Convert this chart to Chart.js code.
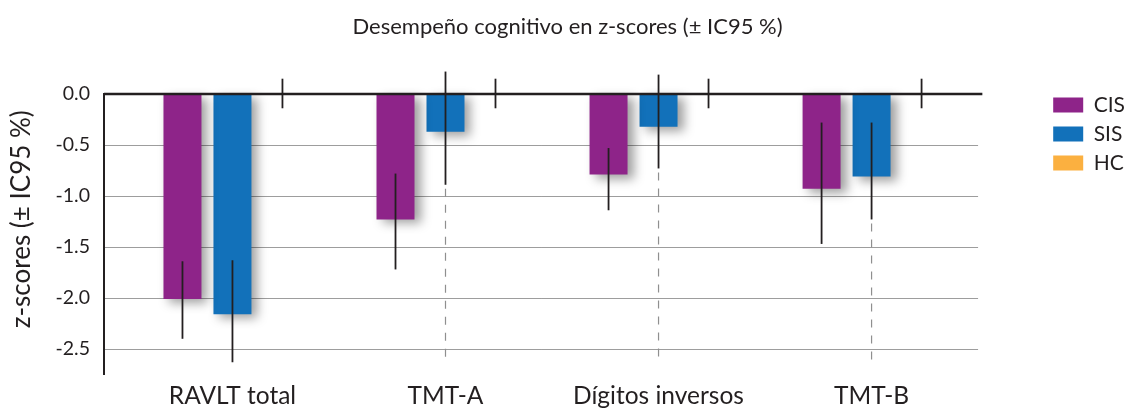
<!DOCTYPE html>
<html>
<head>
<meta charset="utf-8">
<script src="https://cdn.jsdelivr.net/npm/chart.js@4.4.0/dist/chart.umd.min.js"></script>
<style>
  html, body { margin: 0; padding: 0; background: #fff; }
  #wrap { width: 1137px; height: 408px; }
</style>
</head>
<body>
<div id="wrap"><canvas id="chart"></canvas></div>
<script>
// categories and values
const categories = ['RAVLT total', 'TMT-A', 'Dígitos inversos', 'TMT-B'];
const seriesNames = ['CIS', 'SIS', 'HC'];

const cisMean = [-2.01, -1.23, -0.79, -0.93];
const cisLow  = [-2.40, -1.72, -1.14, -1.47];
const cisHigh = [-1.64, -0.78, -0.53, -0.28];

const sisMean = [-2.16, -0.37, -0.32, -0.81];
const sisLow  = [-2.63, -0.89, -0.73, -1.23];
const sisHigh = [-1.63, 0.22, 0.19, -0.28];

const hcMean = [0, 0, 0, 0];
const hcLow  = [-0.14, -0.14, -0.14, -0.14];
const hcHigh = [0.15, 0.15, 0.15, 0.15];

// grey dashed continuation below some SIS error bars
const sisDashEnd = [null, -2.62, -2.62, -2.62];

const yTicks = [0, -0.5, -1, -1.5, -2, -2.5];

const FONT = 'Lato';
const TEXT = '#231f20';
const COLORS = ['#8e2489', '#1271ba', '#fbb040'];
const GRID_END = 3.5; // x value where grid lines stop

const toPoints = arr => arr.map((v, i) => ({ x: i, y: v }));

const errorBars = [
  { low: cisLow, high: cisHigh },
  { low: sisLow, high: sisHigh },
  { low: hcLow, high: hcHigh }
];

const decorPlugin = {
  id: 'decor',
  beforeDatasetsDraw(chart) {
    const { ctx, chartArea, scales } = chart;
    const xEnd = scales.x.getPixelForValue(GRID_END);
    ctx.save();
    ctx.strokeStyle = '#9d9d9d';
    ctx.lineWidth = 1;
    yTicks.forEach(v => {
      if (v === 0) return;
      const y = Math.round(scales.y.getPixelForValue(v)) + 0.5;
      ctx.beginPath();
      ctx.moveTo(chartArea.left, y);
      ctx.lineTo(xEnd, y);
      ctx.stroke();
    });
    ctx.restore();
  },
  beforeDatasetDraw(chart) {
    const ctx = chart.ctx;
    ctx.save();
    ctx.shadowColor = 'rgba(0,0,0,0.38)';
    ctx.shadowBlur = 10;
    ctx.shadowOffsetX = 6;
    ctx.shadowOffsetY = 4;
  },
  afterDatasetDraw(chart) {
    chart.ctx.restore();
  },
  afterDatasetsDraw(chart) {
    const { ctx, chartArea, scales } = chart;
    const x = scales.x, y = scales.y;
    const y0 = y.getPixelForValue(0);
    ctx.save();

    // dashed grey continuations
    ctx.strokeStyle = '#8f8f8f';
    ctx.lineWidth = 1.2;
    ctx.setLineDash([8, 8]);
    const sisMeta = chart.getDatasetMeta(1);
    sisDashEnd.forEach((end, i) => {
      if (end === null) return;
      const px = sisMeta.data[i].x;
      ctx.beginPath();
      ctx.moveTo(px, y.getPixelForValue(sisLow[i]) + 4);
      ctx.lineTo(px, y.getPixelForValue(end));
      ctx.stroke();
    });
    ctx.setLineDash([]);

    // axes
    ctx.strokeStyle = '#231f20';
    ctx.lineWidth = 2.5;
    ctx.beginPath();
    ctx.moveTo(chartArea.left, y0);
    ctx.lineTo(x.getPixelForValue(GRID_END + 0.02), y0);
    ctx.stroke();
    ctx.lineWidth = 2;
    ctx.beginPath();
    ctx.moveTo(chartArea.left, y0 - 1);
    ctx.lineTo(chartArea.left, chartArea.bottom);
    ctx.stroke();

    // error bars
    ctx.lineWidth = 1.8;
    errorBars.forEach((eb, di) => {
      const meta = chart.getDatasetMeta(di);
      meta.data.forEach((bar, i) => {
        ctx.beginPath();
        ctx.moveTo(bar.x, y.getPixelForValue(eb.high[i]));
        ctx.lineTo(bar.x, y.getPixelForValue(eb.low[i]));
        ctx.stroke();
      });
    });
    ctx.restore();
  }
};

const ctx = document.getElementById('chart').getContext('2d');
new Chart(ctx, {
  type: 'bar',
  data: {
    datasets: [
      { label: seriesNames[0], data: toPoints(cisMean), backgroundColor: COLORS[0] },
      { label: seriesNames[1], data: toPoints(sisMean), backgroundColor: COLORS[1] },
      { label: seriesNames[2], data: toPoints(hcMean), backgroundColor: COLORS[2] }
    ]
  },
  options: {
    responsive: true,
    maintainAspectRatio: false,
    animation: false,
    categoryPercentage: 0.704,
    barPercentage: 0.76,
    borderWidth: 0,
    layout: { padding: { left: 0, right: 2, top: 0, bottom: 0 } },
    scales: {
      x: {
        type: 'linear',
        offset: false,
        min: -0.603,
        max: 3.815,
        grid: { display: false },
        border: { display: false },
        afterBuildTicks: scale => { scale.ticks = categories.map((c, i) => ({ value: i })); },
        afterFit: scale => { scale.height = 33; },
        ticks: {
          color: TEXT,
          font: { family: FONT, size: 24.5 },
          padding: -2,
          maxRotation: 0,
          callback: v => categories[v]
        }
      },
      y: {
        min: -2.755,
        max: 0.30,
        grid: { display: false },
        border: { display: false },
        afterBuildTicks: scale => { scale.ticks = yTicks.map(v => ({ value: v })); },
        afterFit: scale => { scale.width = 104; },
        ticks: {
          color: TEXT,
          font: { family: FONT, size: 19.5 },
          padding: 6,
          callback: v => v.toFixed(1)
        },
        title: {
          display: true,
          text: 'z-scores (± IC95 %)',
          color: TEXT,
          font: { family: FONT, size: 26 },
          padding: { top: 6, bottom: 0 }
        }
      }
    },
    plugins: {
      title: {
        display: true,
        text: 'Desempeño cognitivo en z-scores (± IC95 %)',
        color: TEXT,
        font: { family: FONT, size: 22, weight: 'normal' },
        padding: { top: 14, bottom: 23 }
      },
      legend: {
        position: 'right',
        align: 'start',
        fullSize: false,
        title: { display: true, text: ' ', font: { size: 10 }, padding: { top: 11, bottom: 0 } },
        labels: {
          color: TEXT,
          font: { family: FONT, size: 21 },
          boxWidth: 30,
          boxHeight: 15,
          padding: 8
        }
      },
      tooltip: { enabled: false }
    }
  },
  plugins: [decorPlugin]
});
</script>
</body>
</html>
